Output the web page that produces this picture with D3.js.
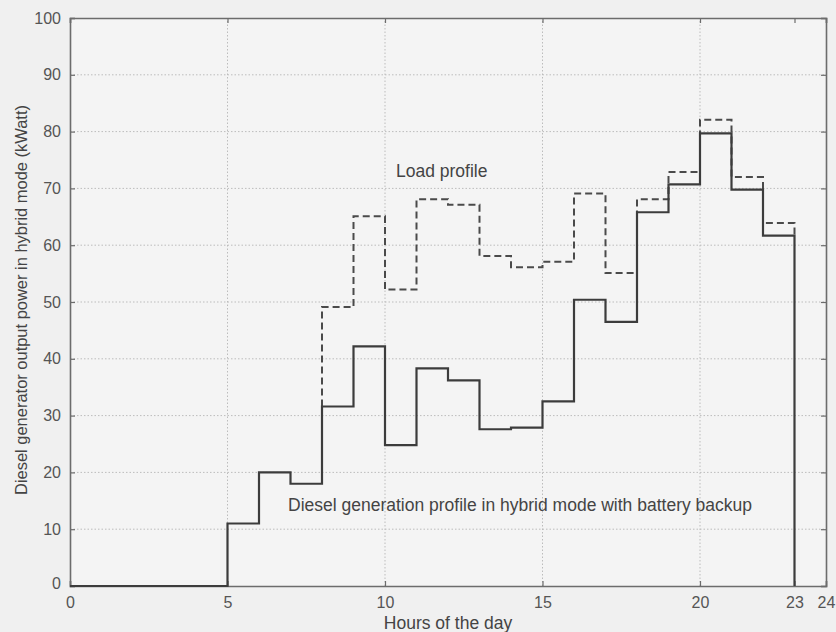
<!DOCTYPE html>
<html>
<head>
<meta charset="utf-8">
<script src="https://cdn.jsdelivr.net/npm/d3@7/dist/d3.min.js"></script>
<style>
  html, body { margin: 0; padding: 0; background: #f0f0f0; }
  svg { display: block; }
  text { font-family: "Liberation Sans", Arial, sans-serif; }
</style>
</head>
<body>
<svg id="chart" width="836" height="632"></svg>
<script>
// ---- data ----
const dieselHours = [5, 6, 7, 8, 9, 10, 11, 12, 13, 14, 15, 16, 17, 18, 19, 20, 21, 22];
const dieselValues = [11, 20, 18, 31.6, 42.2, 24.8, 38.3, 36.2, 27.6, 27.9, 32.5, 50.4, 46.5, 65.8, 70.7, 79.7, 69.8, 61.7];
const loadHours = [8, 9, 10, 11, 12, 13, 14, 15, 16, 17, 18, 19, 20, 21, 22];
const loadValues = [49.1, 65.1, 52.2, 68.1, 67.1, 58.1, 56.1, 57.1, 69.1, 55.1, 68.1, 72.9, 82.1, 72, 63.9];
const xTicks = [0, 5, 10, 15, 20, 23, 24];
const xGrid = [5, 10, 15, 20];
const yTicks = [0, 10, 20, 30, 40, 50, 60, 70, 80, 90, 100];
const endHour = 23;

const svg = d3.select("#chart");
const x = d3.scaleLinear().domain([0, 24]).range([70, 826]);
const y = d3.scaleLinear().domain([0, 100]).range([586, 18]);

// plot background
svg.append("rect").attr("x", x(0)).attr("y", y(100))
  .attr("width", x(24) - x(0)).attr("height", y(0) - y(100))
  .attr("fill", "#f4f4f4");

// grid
const grid = svg.append("g").attr("stroke", "#bcbcbc").attr("stroke-width", 1)
  .attr("stroke-dasharray", "1.5,2");
grid.selectAll("line.gx").data(xGrid).join("line")
  .attr("x1", d => x(d)).attr("x2", d => x(d)).attr("y1", y(0)).attr("y2", y(100));
grid.selectAll("line.gy").data(yTicks.filter(d => d > 0 && d < 100)).join("line")
  .attr("x1", x(0)).attr("x2", x(24)).attr("y1", d => y(d)).attr("y2", d => y(d));

// axes
const axisColor = "#6c6c6c";
const axBottom = svg.append("g").attr("transform", `translate(0,${y(0)})`)
  .call(d3.axisBottom(x).tickValues(xTicks).tickSize(-5).tickPadding(11).tickFormat(d3.format("d")));
const axLeft = svg.append("g").attr("transform", `translate(${x(0)},0)`)
  .call(d3.axisLeft(y).tickValues(yTicks).tickSize(-5).tickPadding(9).tickFormat(d3.format("d")));
const axTop = svg.append("g").attr("transform", `translate(0,${y(100)})`)
  .call(d3.axisTop(x).tickValues(xTicks).tickSize(-5).tickFormat(""));
const axRight = svg.append("g").attr("transform", `translate(${x(24)},0)`)
  .call(d3.axisRight(y).tickValues(yTicks).tickSize(-5).tickFormat(""));
[axBottom, axLeft, axTop, axRight].forEach(g => {
  g.select(".domain").attr("stroke", axisColor).attr("stroke-width", 1.6);
  g.selectAll(".tick line").attr("stroke", axisColor).attr("stroke-width", 1.2);
  g.selectAll("text").attr("fill", "#555").style("font-size", "16px")
    .style("font-family", "'Liberation Sans', Arial, sans-serif");
});
axLeft.selectAll(".tick text").filter(d => d === 0).attr("dy", "0.15em");

// lines
const line = d3.line().x(d => x(d[0])).y(d => y(d[1])).curve(d3.curveStepAfter);

const dieselPts = [[0, 0]].concat(dieselHours.map((h, i) => [h, dieselValues[i]]), [[endHour, 0]]);
const loadPts = [[loadHours[0], dieselValues[dieselHours.indexOf(loadHours[0])]]]
  .concat(loadHours.map((h, i) => [h, loadValues[i]]),
          [[endHour, dieselValues[dieselValues.length - 1]]]);

svg.append("path").datum(loadPts).attr("d", line)
  .attr("fill", "none").attr("stroke", "#4a4a4a").attr("stroke-width", 2)
  .attr("stroke-dasharray", "7,4");
svg.append("path").datum(dieselPts).attr("d", line)
  .attr("fill", "none").attr("stroke", "#3c3c3c").attr("stroke-width", 2.2);

// annotations
svg.append("text").attr("x", 396).attr("y", 177).attr("fill", "#444")
  .style("font-size", "17.5px").text("Load profile");
svg.append("text").attr("x", 288).attr("y", 511).attr("fill", "#444")
  .style("font-size", "17.5px").text("Diesel generation profile in hybrid mode with battery backup");

// axis titles
svg.append("text").attr("x", 448).attr("y", 629).attr("text-anchor", "middle")
  .attr("fill", "#444").style("font-size", "17.5px").text("Hours of the day");
svg.append("text").attr("transform", "translate(27,300) rotate(-90)")
  .attr("text-anchor", "middle").attr("fill", "#444").style("font-size", "16px")
  .attr("textLength", 390).attr("lengthAdjust", "spacingAndGlyphs")
  .text("Diesel generator output power in hybrid mode (kWatt)");
</script>
</body>
</html>
